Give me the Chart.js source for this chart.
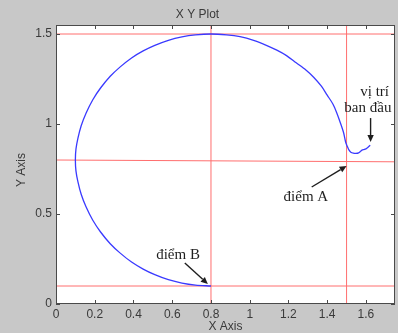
<!DOCTYPE html>
<html>
<head>
<meta charset="utf-8">
<script src="https://cdn.jsdelivr.net/npm/chart.js@4.4.1/dist/chart.umd.min.js"></script>
<title>X Y Plot</title>
<style>
    body { margin: 0; background: #c8c8c8; }
    canvas { display: block; }
</style>
</head>
<body>
<canvas id="xy_plot" width="398" height="333"></canvas>
<script>
// robot path, starting at the initial position and running round to point B
var pathX = [1.622, 1.612, 1.600, 1.590, 1.582, 1.574, 1.562, 1.548, 1.535, 1.522, 1.512, 1.504,
    1.495, 1.485, 1.470, 1.450, 1.430, 1.400, 1.370, 1.330, 1.290, 1.240, 1.190, 1.140, 1.080,
    1.020, 0.950, 0.880, 0.800, 0.720, 0.650, 0.580, 0.510, 0.450, 0.390, 0.330, 0.280, 0.230,
    0.190, 0.155, 0.130, 0.113, 0.103, 0.100, 0.103, 0.113, 0.130, 0.155, 0.190, 0.230, 0.280,
    0.330, 0.390, 0.450, 0.510, 0.580, 0.650, 0.720, 0.800];
var pathY = [0.882, 0.872, 0.862, 0.858, 0.856, 0.850, 0.840, 0.837, 0.838, 0.843, 0.856, 0.875,
    0.900, 0.950, 1.000, 1.060, 1.110, 1.160, 1.210, 1.260, 1.300, 1.340, 1.380, 1.410, 1.440,
    1.465, 1.485, 1.495, 1.500, 1.495, 1.484, 1.465, 1.437, 1.406, 1.367, 1.316, 1.265, 1.200,
    1.135, 1.060, 0.990, 0.920, 0.860, 0.800, 0.740, 0.680, 0.610, 0.540, 0.465, 0.400, 0.335,
    0.284, 0.233, 0.194, 0.163, 0.135, 0.116, 0.105, 0.100];

// red reference lines (x pairs / y pairs)
var guideX = [[0, 1.75], [0, 1.75], [0, 1.75], [0.8, 0.8], [1.5, 1.5]];
var guideY = [[1.5, 1.5], [0.8, 0.79], [0.1, 0.1], [0, 1.55], [0, 1.55]];

var xTickValues = [0, 0.2, 0.4, 0.6, 0.8, 1, 1.2, 1.4, 1.6];
var yTickValues = [0, 0.5, 1, 1.5];

// notes: text, anchor in data units
var noteText = ["vị trí", "ban đầu", "điểm A", "điểm B"];
var noteX = [1.645, 1.610, 1.290, 0.630];
var noteY = [1.175, 1.088, 0.594, 0.272];
// arrows: from -> to, data units
var arrowFromX = [1.624, 1.320, 0.665];
var arrowFromY = [1.033, 0.650, 0.228];
var arrowToX = [1.624, 1.500, 0.784];
var arrowToY = [0.900, 0.767, 0.111];

function toPoints(xs, ys) {
    return xs.map(function(x, i){ return {x: x, y: ys[i]}; });
}

var datasets = [{
    data: toPoints(pathX, pathY),
    borderColor: "#3a3aff",
    borderWidth: 1.3,
    pointRadius: 0,
    showLine: true,
    tension: 0.3
}];
guideX.forEach(function(xs, i){
    datasets.push({
        data: toPoints(xs, guideY[i]),
        borderColor: "#ff6e6e",
        borderWidth: 1,
        pointRadius: 0,
        showLine: true
    });
});

var tickFont = {family: "'Liberation Sans', Arial, sans-serif", size: 12};

var panel = {
    id: "panel",
    beforeDraw: function(chart){
        var c = chart.ctx, a = chart.chartArea;
        c.save();
        c.fillStyle = "#c8c8c8";
        c.fillRect(0, 0, chart.width, chart.height);
        c.fillStyle = "#ffffff";
        c.fillRect(a.left, a.top, a.right - a.left, a.bottom - a.top);
        c.restore();
    },
    afterDatasetsDraw: function(chart){
        var c = chart.ctx, a = chart.chartArea;
        var xs = chart.scales.x, ys = chart.scales.y;
        c.save();
        c.strokeStyle = "#4a4a4a";
        c.lineWidth = 1;
        c.strokeRect(a.left + 0.5, a.top + 0.5, a.right - a.left - 1, a.bottom - a.top - 1);
        c.beginPath();
        xTickValues.forEach(function(v){
            var px = Math.round(xs.getPixelForValue(v)) + 0.5;
            c.moveTo(px, a.bottom); c.lineTo(px, a.bottom - 4);
            c.moveTo(px, a.top); c.lineTo(px, a.top + 4);
        });
        yTickValues.forEach(function(v){
            var py = Math.round(ys.getPixelForValue(v)) + 0.5;
            c.moveTo(a.left, py); c.lineTo(a.left + 4, py);
            c.moveTo(a.right, py); c.lineTo(a.right - 4, py);
        });
        c.stroke();
        c.restore();
    },
    afterDraw: function(chart){
        var c = chart.ctx;
        var xs = chart.scales.x, ys = chart.scales.y;
        c.save();
        // y axis title
        c.fillStyle = "#3a3a3a";
        c.font = "12px 'Liberation Sans', Arial, sans-serif";
        c.textAlign = "center";
        c.textBaseline = "middle";
        c.translate(22, 170);
        c.rotate(-Math.PI / 2);
        c.fillText("Y Axis", 0, 0);
        c.restore();

        c.save();
        c.fillStyle = "#1e1e1e";
        c.font = "15px 'Liberation Serif', 'Times New Roman', serif";
        c.textAlign = "center";
        c.textBaseline = "middle";
        noteText.forEach(function(t, i){
            c.fillText(t, xs.getPixelForValue(noteX[i]), ys.getPixelForValue(noteY[i]));
        });
        c.strokeStyle = "#1e1e1e";
        c.fillStyle = "#1e1e1e";
        c.lineWidth = 1.4;
        arrowFromX.forEach(function(fx, i){
            var x0 = xs.getPixelForValue(fx), y0 = ys.getPixelForValue(arrowFromY[i]);
            var x1 = xs.getPixelForValue(arrowToX[i]), y1 = ys.getPixelForValue(arrowToY[i]);
            var ang = Math.atan2(y1 - y0, x1 - x0);
            var hl = 7, hw = 3.2;
            c.beginPath();
            c.moveTo(x0, y0);
            c.lineTo(x1 - hl * Math.cos(ang), y1 - hl * Math.sin(ang));
            c.stroke();
            c.beginPath();
            c.moveTo(x1, y1);
            c.lineTo(x1 - hl * Math.cos(ang) + hw * Math.sin(ang), y1 - hl * Math.sin(ang) - hw * Math.cos(ang));
            c.lineTo(x1 - hl * Math.cos(ang) - hw * Math.sin(ang), y1 - hl * Math.sin(ang) + hw * Math.cos(ang));
            c.closePath();
            c.fill();
        });
        c.restore();
    }
};

var chart = new Chart(document.getElementById("xy_plot"), {
    type: "scatter",
    data: {datasets: datasets},
    options: {
        responsive: false,
        animation: false,
        devicePixelRatio: 1,
        layout: {padding: {top: 0, right: 3, left: 0, bottom: 0}},
        plugins: {
            legend: {display: false},
            tooltip: {enabled: false},
            title: {
                display: true,
                text: "X Y Plot",
                color: "#3a3a3a",
                font: {family: "'Liberation Sans', Arial, sans-serif", size: 12, weight: "normal", lineHeight: 1.2},
                padding: {top: 7, bottom: 3.6}
            }
        },
        scales: {
            x: {
                type: "linear",
                min: 0,
                max: 1.75,
                afterBuildTicks: function(scale){
                    scale.ticks = xTickValues.map(function(v){ return {value: v}; });
                },
                afterFit: function(scale){ scale.height = 29; },
                grid: {display: false, drawTicks: false},
                border: {display: false},
                ticks: {
                    color: "#3a3a3a",
                    font: tickFont,
                    padding: 3,
                    maxRotation: 0,
                    autoSkip: false,
                    callback: function(v){ return String(Math.round(v * 10) / 10); }
                },
                title: {
                    display: true,
                    text: "X Axis",
                    color: "#3a3a3a",
                    font: {family: "'Liberation Sans', Arial, sans-serif", size: 12, lineHeight: 1},
                    padding: 0
                }
            },
            y: {
                type: "linear",
                min: 0,
                max: 1.55,
                afterBuildTicks: function(scale){
                    scale.ticks = yTickValues.map(function(v){ return {value: v}; });
                },
                afterFit: function(scale){ scale.width = 56; },
                grid: {display: false, drawTicks: false},
                border: {display: false},
                ticks: {
                    color: "#3a3a3a",
                    font: tickFont,
                    padding: 4,
                    autoSkip: false,
                    callback: function(v){ return String(Math.round(v * 10) / 10); }
                }
            }
        }
    },
    plugins: [panel]
});
</script>
</body>
</html>
